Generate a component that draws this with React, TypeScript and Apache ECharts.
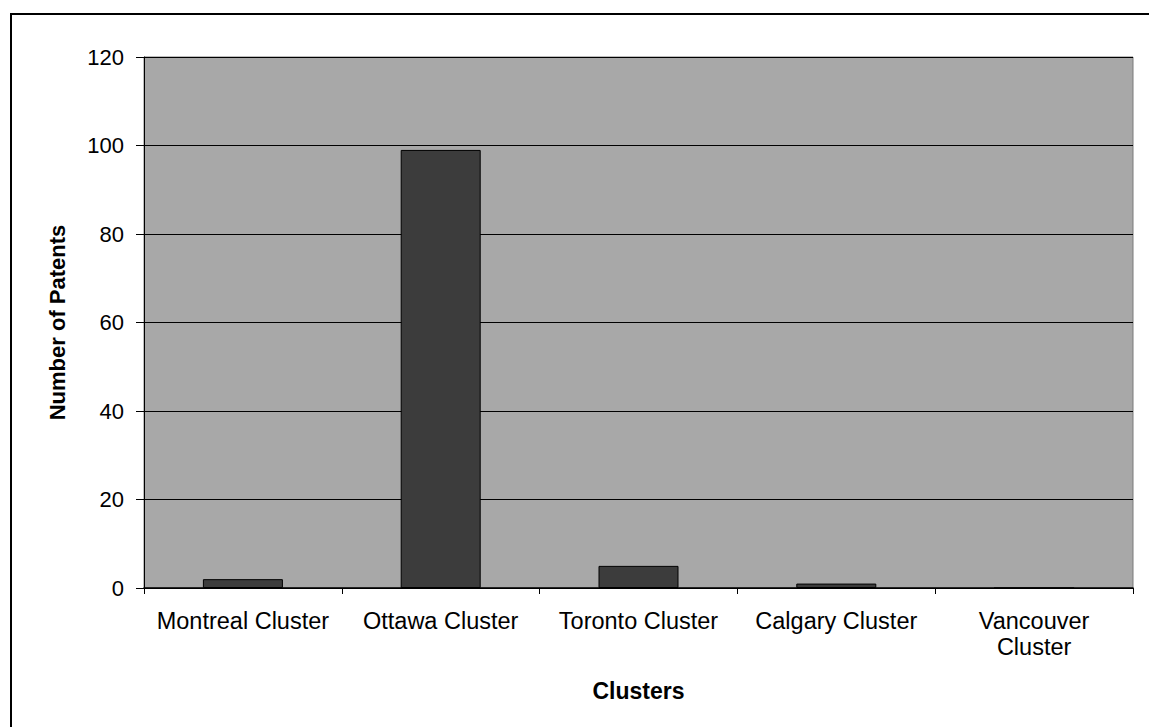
import React, { useEffect, useRef } from "react";
import * as echarts from "echarts";

// Patent counts per regional cluster
const clusters = [
  "Montreal Cluster",
  "Ottawa Cluster",
  "Toronto Cluster",
  "Calgary Cluster",
  "Vancouver Cluster",
];
const patentCounts = [2, 99, 5, 1, 0];
const yTicks = { min: 0, max: 120, interval: 20 };

// Labels that the category axis wraps onto two lines
const wrappedLabels: Record<string, string> = {
  "Vancouver Cluster": "Vancouver\nCluster",
};

const FONT = "'Liberation Sans', Arial, Helvetica, sans-serif";

export default function App() {
  const ref = useRef<HTMLDivElement>(null);

  useEffect(() => {
    if (!ref.current) return;
    const chart = echarts.init(ref.current, undefined, { renderer: "svg" });
    chart.setOption({
      animation: false,
      backgroundColor: "#ffffff",
      textStyle: { fontFamily: FONT },
      graphic: [
        {
          type: "rect",
          z: 0,
          shape: { x: 11, y: 14, width: 1400, height: 900 },
          style: { fill: "none", stroke: "#000000", lineWidth: 2 },
        },
      ],
      grid: {
        left: 144,
        right: 16,
        top: 57,
        bottom: 139,
        show: true,
        backgroundColor: "#a8a8a8",
        borderColor: "#7a7a7a",
        borderWidth: 1,
      },
      xAxis: {
        type: "category",
        data: clusters,
        name: "Clusters",
        nameLocation: "middle",
        nameGap: 91,
        nameTextStyle: {
          fontFamily: FONT,
          fontSize: 23,
          fontWeight: "bold",
          color: "#000000",
        },
        axisLine: { show: true, lineStyle: { color: "#000000", width: 1.5 } },
        axisTick: {
          show: true,
          alignWithLabel: false,
          length: 6,
          lineStyle: { color: "#000000" },
        },
        axisLabel: {
          margin: 20,
          fontFamily: FONT,
          fontSize: 23.5,
          lineHeight: 26,
          color: "#000000",
          interval: 0,
          formatter: (v: string) => wrappedLabels[v] ?? v,
        },
        splitLine: { show: false },
      },
      yAxis: {
        type: "value",
        min: yTicks.min,
        max: yTicks.max,
        interval: yTicks.interval,
        name: "Number of Patents",
        nameLocation: "middle",
        nameRotate: 90,
        nameGap: 76,
        nameTextStyle: {
          fontFamily: FONT,
          fontSize: 22,
          fontWeight: "bold",
          color: "#000000",
        },
        axisLine: { show: true, lineStyle: { color: "#000000", width: 1 } },
        axisTick: {
          show: true,
          inside: false,
          length: 8,
          lineStyle: { color: "#000000" },
        },
        axisLabel: {
          margin: 20,
          fontFamily: FONT,
          fontSize: 22,
          color: "#000000",
        },
        splitLine: { show: true, lineStyle: { color: "#000000", width: 1 } },
      },
      series: [
        {
          type: "bar",
          data: patentCounts,
          barWidth: 80,
          itemStyle: {
            color: "#3c3c3c",
            borderColor: "#000000",
            borderWidth: 1,
          },
        },
      ],
    });
    return () => chart.dispose();
  }, []);

  return (
    <div
      ref={ref}
      style={{ position: "fixed", left: 0, top: 0, width: 1149, height: 727 }}
    />
  );
}
